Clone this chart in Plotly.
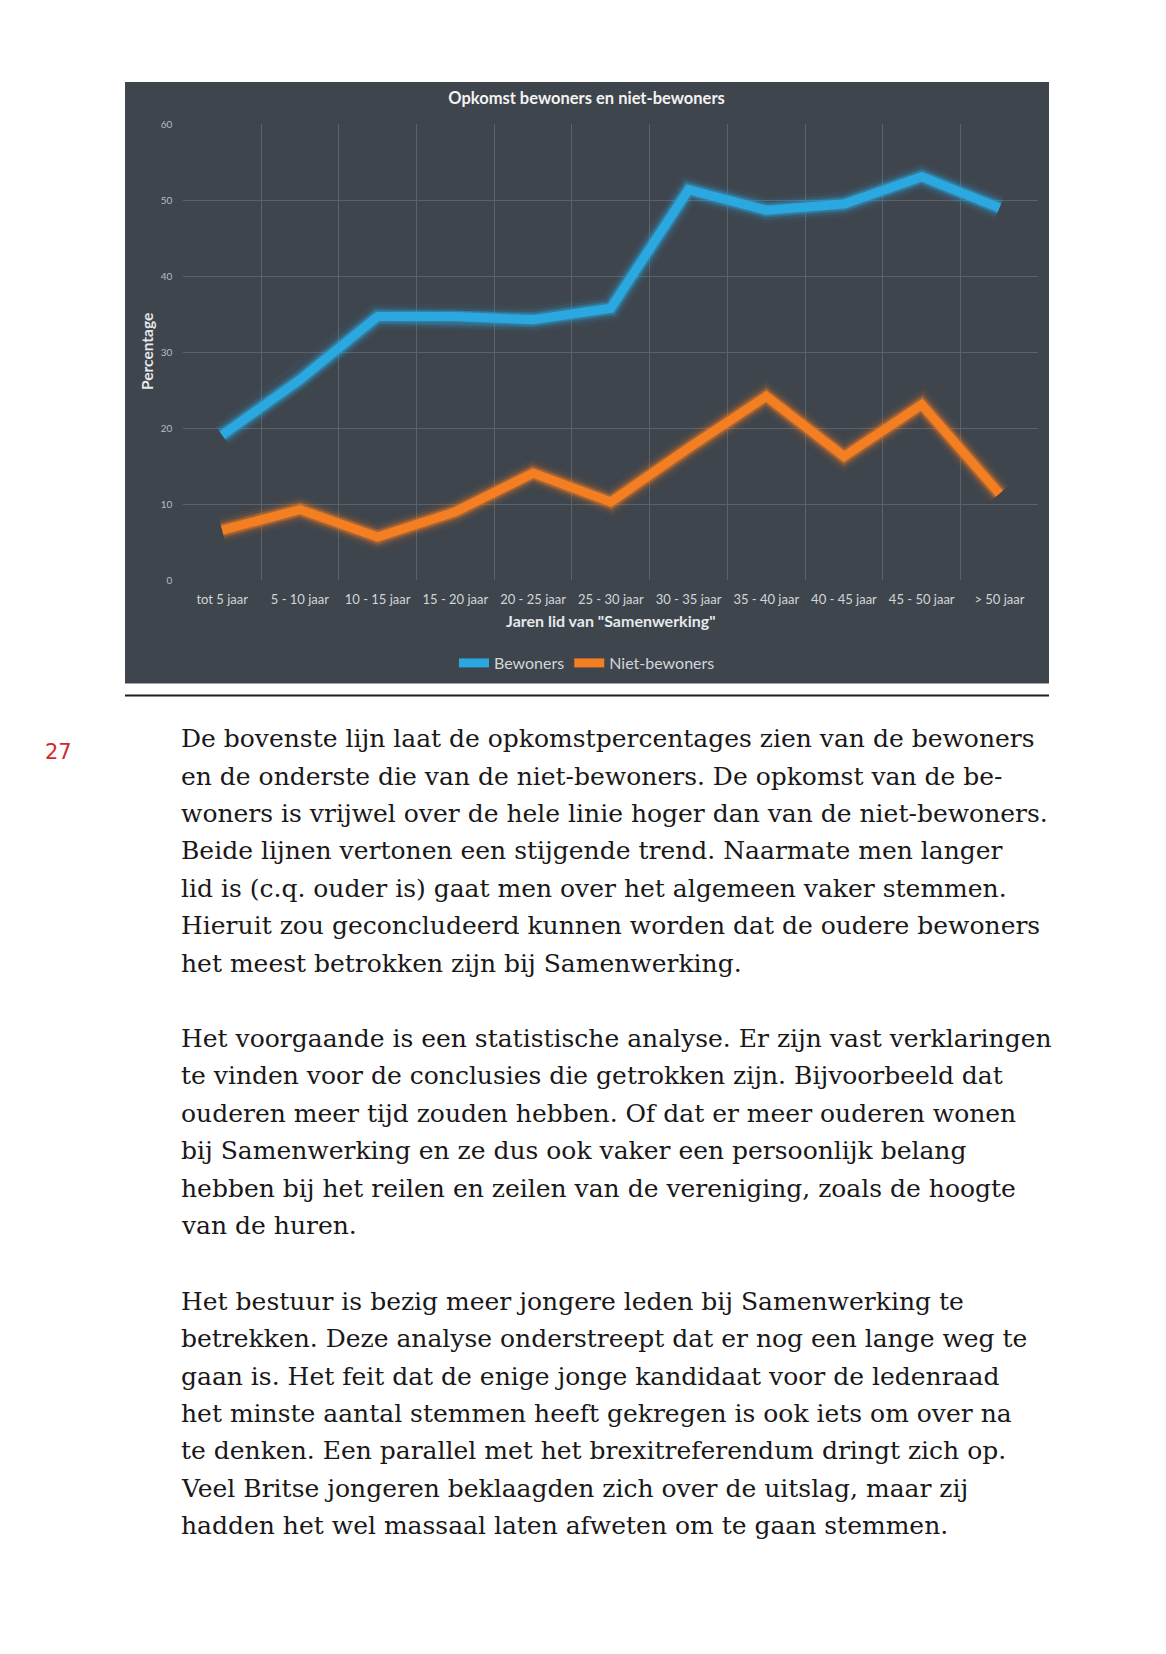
import plotly.graph_objects as go

# ---- data ----
categories = ["tot 5 jaar", "5 - 10 jaar", "10 - 15 jaar", "15 - 20 jaar", "20 - 25 jaar",
              "25 - 30 jaar", "30 - 35 jaar", "35 - 40 jaar", "40 - 45 jaar", "45 - 50 jaar", "> 50 jaar"]
bewoners = [19.1, 26.4, 34.7, 34.7, 34.3, 35.8, 51.4, 48.7, 49.5, 53.1, 49.0]
niet_bewoners = [6.6, 9.3, 5.7, 9.0, 14.1, 10.3, 17.4, 24.2, 16.3, 23.1, 11.4]
y_ticks = [0, 10, 20, 30, 40, 50, 60]

paragraphs = [
    ["De bovenste lijn laat de opkomstpercentages zien van de bewoners",
     "en de onderste die van de niet-bewoners. De opkomst van de be-",
     "woners is vrijwel over de hele linie hoger dan van de niet-bewoners.",
     "Beide lijnen vertonen een stijgende trend. Naarmate men langer",
     "lid is (c.q. ouder is) gaat men over het algemeen vaker stemmen.",
     "Hieruit zou geconcludeerd kunnen worden dat de oudere bewoners",
     "het meest betrokken zijn bij Samenwerking."],
    ["Het voorgaande is een statistische analyse. Er zijn vast verklaringen",
     "te vinden voor de conclusies die getrokken zijn. Bijvoorbeeld dat",
     "ouderen meer tijd zouden hebben. Of dat er meer ouderen wonen",
     "bij Samenwerking en ze dus ook vaker een persoonlijk belang",
     "hebben bij het reilen en zeilen van de vereniging, zoals de hoogte",
     "van de huren."],
    ["Het bestuur is bezig meer jongere leden bij Samenwerking te",
     "betrekken. Deze analyse onderstreept dat er nog een lange weg te",
     "gaan is. Het feit dat de enige jonge kandidaat voor de ledenraad",
     "het minste aantal stemmen heeft gekregen is ook iets om over na",
     "te denken. Een parallel met het brexitreferendum dringt zich op.",
     "Veel Britse jongeren beklaagden zich over de uitslag, maar zij",
     "hadden het wel massaal laten afweten om te gaan stemmen."],
]
page_number = "27"

# ---- layout constants (page pixels) ----
OFF = 8                      # default body margin of the html page
FW, FH = 1166 - 2 * OFF, 1654 - 2 * OFF
BG = "#3e454d"
BLUE = "#2ba8e0"
ORANGE = "#f47e22"


def px(x):
    return (x - OFF) / FW


def py(y):
    return 1 - (y - OFF) / FH


fig = go.Figure()

series = [("Bewoners", bewoners, (43, 168, 224), BLUE),
          ("Niet-bewoners", niet_bewoners, (244, 126, 34), ORANGE)]

# glow layers
for name, vals, rgb, col in series:
    for w, a in [(26, 0.06), (20, 0.12), (15, 0.25), (12, 0.35)]:
        fig.add_trace(go.Scatter(
            x=categories, y=vals, mode="lines", showlegend=False, hoverinfo="skip",
            line=dict(color=f"rgba({rgb[0]},{rgb[1]},{rgb[2]},{a})", width=w)))

for name, vals, rgb, col in series:
    fig.add_trace(go.Scatter(
        x=categories, y=vals, mode="lines", name=name,
        line=dict(color=col, width=9)))

# chart background panel
fig.add_shape(type="rect", xref="paper", yref="paper",
              x0=px(125), x1=px(1049), y0=py(683.5), y1=py(82),
              fillcolor=BG, line=dict(width=0), layer="below")
# rule under chart
fig.add_shape(type="line", xref="paper", yref="paper",
              x0=px(125), x1=px(1049), y0=py(695.5), y1=py(695.5),
              line=dict(color="#1e1e1e", width=2))

annotations = []
# y axis title
annotations.append(dict(text="<b>Percentage</b>", xref="paper", yref="paper",
                        x=px(147), y=py(352), textangle=-90, showarrow=False,
                        xanchor="center", yanchor="middle",
                        font=dict(family="Lato", size=15.5, color="#e6e8ea")))
# page number
annotations.append(dict(text=page_number, xref="paper", yref="paper",
                        x=px(43), y=py(752), showarrow=False,
                        xanchor="left", yanchor="middle",
                        font=dict(family="DejaVu Sans", size=21, color="#d42a2a")))

para_starts = [738.6, 1038.3, 1301.1]
line_step = 37.45
for start, lines in zip(para_starts, paragraphs):
    for i, line in enumerate(lines):
        annotations.append(dict(text=line, xref="paper", yref="paper",
                                x=px(178.5), y=py(start + i * line_step), showarrow=False,
                                xanchor="left", yanchor="middle",
                                font=dict(family="DejaVu Serif", size=25, color="#1a1718")))

fig.update_layout(
    width=FW, height=FH,
    margin=dict(l=0, r=0, t=0, b=0, autoexpand=False),
    paper_bgcolor="white",
    plot_bgcolor=BG,
    title=dict(text="<b>Opkomst bewoners en niet-bewoners</b>",
               x=px(586.5), y=py(98.5), xanchor="center", yanchor="middle",
               xref="paper", yref="paper", automargin=False,
               font=dict(family="Lato", size=16.5, color="#f2f2f2")),
    xaxis=dict(domain=[px(183.3), px(1038.3)], type="category",
               categoryorder="array", categoryarray=categories,
               range=[-0.5, 10.5], tickson="boundaries", automargin=False,
               showgrid=True, gridcolor="#5b6269", gridwidth=1,
               ticks="outside", ticklen=8, tickcolor="rgba(0,0,0,0)",
               ticklabelstandoff=10,
               tickfont=dict(family="Lato", size=13, color="#d3d6d9"),
               zeroline=False, showline=False,
               title=dict(text="<b>Jaren lid van \"Samenwerking\"</b>", standoff=9,
                          font=dict(family="Lato", size=16, color="#e6e8ea"))),
    yaxis=dict(domain=[py(580.3), py(124.3)], range=[0, 60], tickvals=y_ticks,
               automargin=False,
               showgrid=True, gridcolor="#5b6269", gridwidth=1,
               ticks="outside", ticklen=8, tickcolor="rgba(0,0,0,0)",
               tickfont=dict(family="Lato", size=10, color="#b9bdc2"),
               zeroline=False, showline=False),
    legend=dict(orientation="h", x=px(587), y=py(663), xanchor="center", yanchor="middle",
                xref="paper", yref="paper",
                bgcolor="rgba(0,0,0,0)", font=dict(family="Lato", size=16, color="#d3d6d9"),
                itemwidth=30, tracegroupgap=0),
    annotations=annotations,
)

fig.write_html("out.html")
